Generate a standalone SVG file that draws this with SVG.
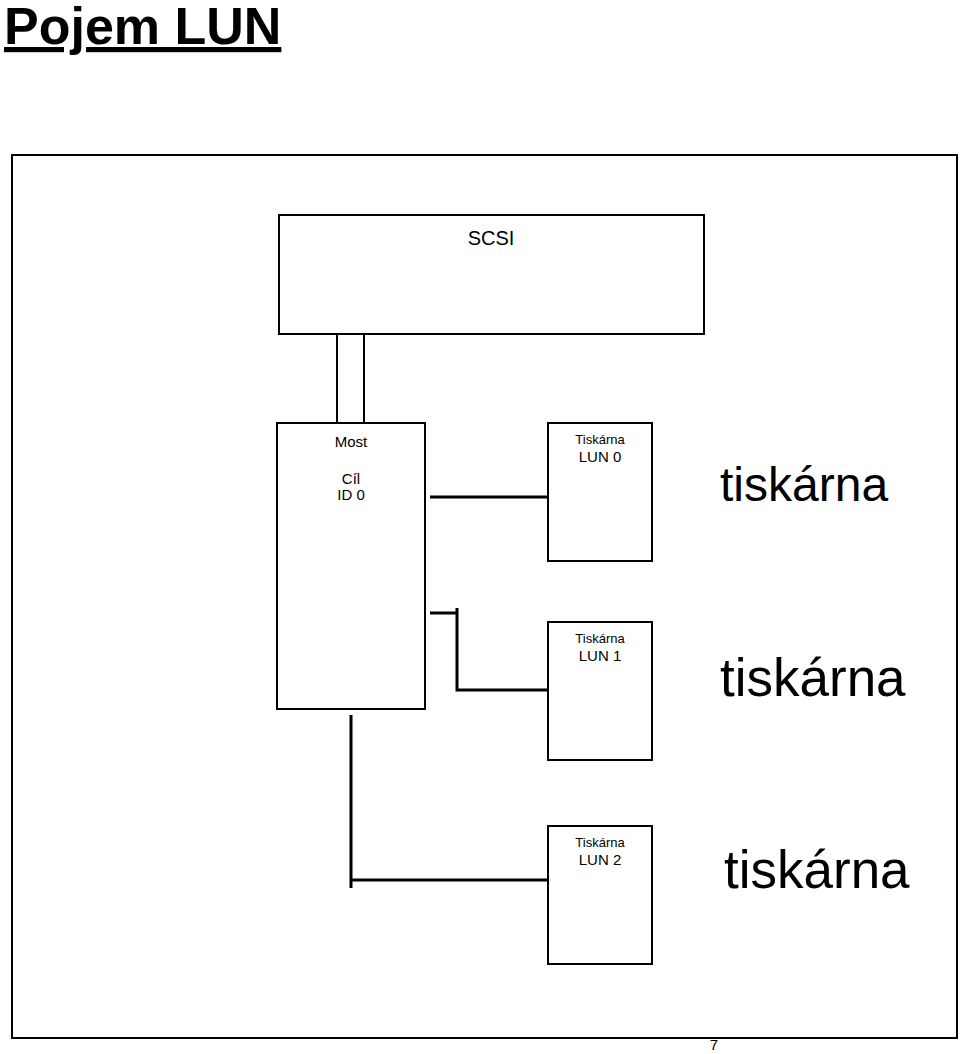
<svg xmlns="http://www.w3.org/2000/svg" width="960" height="1054" viewBox="0 0 960 1054">
<style>
.b{fill:#fff;stroke:#000;stroke-width:2}
.t{font-family:"Liberation Sans",Arial,sans-serif;fill:#000;text-anchor:middle}
.c{stroke:#000;stroke-width:3;fill:none}
.big{font-family:"Liberation Sans",Arial,sans-serif;fill:#000}
</style>
<rect width="960" height="1054" fill="#fff"/>
<text x="4" y="44" font-family="Liberation Sans,Arial,sans-serif" font-size="52" font-weight="bold" text-decoration="underline">Pojem LUN</text>
<rect x="12" y="155" width="945" height="883" class="b"/>
<g id="bus"><line x1="337" y1="334" x2="337" y2="423" stroke="#000" stroke-width="2"/><line x1="364" y1="334" x2="364" y2="423" stroke="#000" stroke-width="2"/></g>
<g id="scsi"><rect x="279" y="215" width="425" height="119" class="b"/><text x="491" y="245" class="t" font-size="20">SCSI</text></g>
<g id="most"><rect x="277" y="423" width="148" height="286" class="b"/><text x="351" y="447" class="t" font-size="15">Most</text><text x="351" y="484" class="t" font-size="15">Cíl</text><text x="351" y="500" class="t" font-size="15">ID 0</text></g>
<g id="lun0"><rect x="548" y="423" width="104" height="138" class="b"/><text x="600" y="444" class="t" font-size="13">Tiskárna</text><text x="600" y="462" class="t" font-size="15">LUN 0</text></g>
<g id="lun1"><rect x="548" y="622" width="104" height="138" class="b"/><text x="600" y="643" class="t" font-size="13">Tiskárna</text><text x="600" y="661" class="t" font-size="15">LUN 1</text></g>
<g id="lun2"><rect x="548" y="826" width="104" height="138" class="b"/><text x="600" y="847" class="t" font-size="13">Tiskárna</text><text x="600" y="865" class="t" font-size="15">LUN 2</text></g>
<g id="connectors">
<path class="c" d="M430 497H548"/>
<path class="c" d="M430 613H457M457 608V690H549"/>
<path class="c" d="M351 715V888M351 880H548"/>
</g>
<text x="720" y="501" class="big" font-size="48">tiskárna</text>
<text x="720" y="696" class="big" font-size="53">tiskárna</text>
<text x="724" y="888" class="big" font-size="53">tiskárna</text>
<text x="714" y="1050" font-family="Liberation Sans,Arial,sans-serif" font-size="15" text-anchor="middle">7</text>
</svg>
